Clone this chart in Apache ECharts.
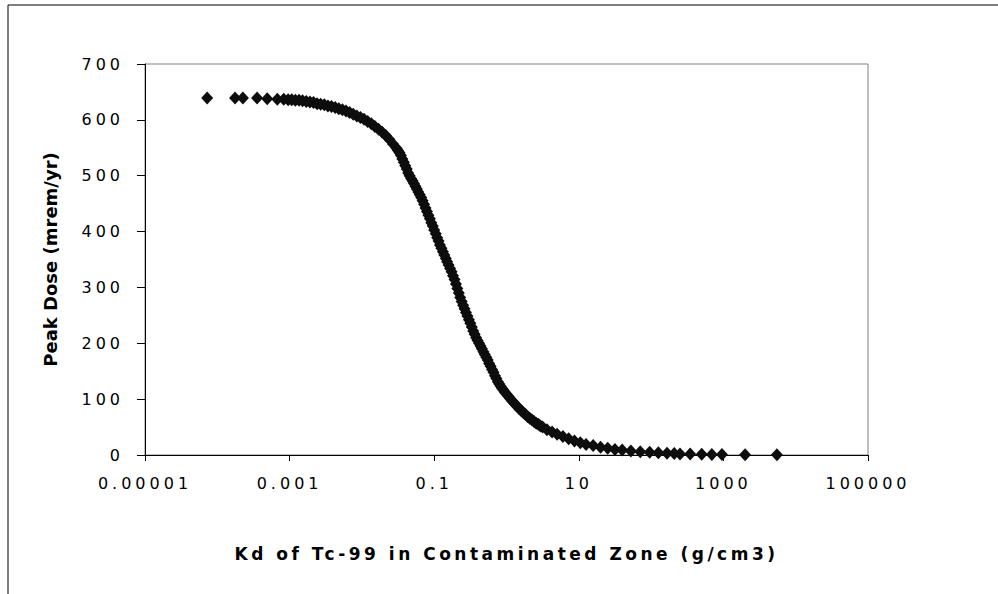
<!DOCTYPE html>
<html>
<head>
<meta charset="utf-8">
<script src="https://cdn.jsdelivr.net/npm/echarts@6/dist/echarts.min.js"></script>
<style>
  html, body { margin: 0; padding: 0; background: #fff; }
  #main { width: 998px; height: 594px; }
  /* the source chart has wide character spacing */
  #main text[style*="16px"] { letter-spacing: 4px; }
  #main text[style*="17px"] { letter-spacing: 3.5px; }
</style>
</head>
<body>
<div id="main"></div>
<script>
// Kd (g/cm3) and peak dose (mrem/yr)
var kd = [
  7.24e-5, 1.76e-4, 2.26e-4, 3.55e-4, 4.9e-4, 6.76e-4, 8.3e-4, 9.55e-4,
  1.07e-3, 1.2e-3, 1.35e-3, 1.51e-3, 1.70e-3, 1.91e-3, 2.14e-3, 2.40e-3,
  2.69e-3, 3.02e-3, 3.39e-3, 3.80e-3, 4.27e-3, 4.79e-3, 5.37e-3, 6.03e-3,
  6.76e-3, 7.59e-3, 8.51e-3, 9.55e-3, 0.0107, 0.0120, 0.0135, 0.0151,
  0.0170, 0.0191, 0.0214, 0.0240, 0.0269,
  0.0302, 0.0316, 0.0331, 0.0347, 0.0363, 0.0380, 0.0398, 0.0417,
  0.0437, 0.0457, 0.0479, 0.0501, 0.0525, 0.0550, 0.0575, 0.0603,
  0.0631, 0.0661, 0.0692, 0.0724, 0.0759, 0.0794, 0.0832, 0.0871,
  0.0912, 0.0955, 0.1, 0.105, 0.110, 0.115, 0.120, 0.126,
  0.132, 0.138, 0.145, 0.151, 0.158, 0.166, 0.174, 0.182,
  0.191, 0.200, 0.209, 0.219, 0.229, 0.240, 0.251, 0.263,
  0.275, 0.288, 0.302, 0.316, 0.331, 0.347, 0.363, 0.380,
  0.398, 0.417, 0.437, 0.457, 0.479, 0.501, 0.525, 0.550,
  0.575, 0.603, 0.631, 0.661, 0.692, 0.724, 0.759, 0.794,
  0.832, 0.871, 0.912, 0.955, 1.0, 1.06, 1.12, 1.19,
  1.26, 1.33, 1.41, 1.50, 1.58, 1.70, 1.82, 1.95,
  2.09, 2.24, 2.40, 2.57, 2.75, 2.95, 3.16, 3.63,
  4.27, 5.01, 6.03, 7.24, 8.71, 10.5, 12.6, 15.8,
  20.0, 25.1, 31.6, 39.8, 52.5, 70.8, 95.5, 126,
  166, 209, 251, 347, 501, 692, 955, 1995, 5495
];
var dose = [
  639, 639, 639, 639, 638, 637, 637, 636,
  636, 635, 635, 634, 633, 632, 631, 629,
  628, 627, 625, 624, 622, 620, 618, 616,
  613, 610, 607, 604, 601, 597, 593, 588,
  583, 578, 572, 565, 557,
  549, 545, 541, 536, 530, 524, 518, 512,
  505, 500, 495, 491, 486, 481, 476, 471,
  466, 461, 455, 449, 442, 436, 429, 423,
  416, 410, 403, 396, 389, 383, 376, 370,
  364, 358, 352, 346, 340, 334, 328, 321,
  314, 306, 298, 290, 282, 275, 268, 262,
  255, 249, 242, 236, 229, 222, 216, 210,
  205, 200, 195, 190, 185, 180, 175, 170,
  164, 159, 153, 148, 142, 137, 131, 127,
  123, 119, 116, 112, 109, 105, 101, 97,
  94, 90, 87, 83, 80, 76, 73, 69,
  66, 63, 60, 57, 55, 52, 50, 45,
  41, 37, 33, 29, 25, 22, 19, 17,
  14, 12, 10, 9, 7, 6, 5, 4,
  3, 2.5, 2, 1.6, 1.2, 1, 0.8, 0.5, 0.3
];
var xTickLabels = ['0.00001', '0.001', '0.1', '10', '1000', '100000'];
var xTitle = 'Kd of Tc-99 in Contaminated Zone (g/cm3)';
var yTitle = 'Peak Dose (mrem/yr)';

// x axis is decades of Kd
var points = [];
for (var i = 0; i < kd.length; i++) {
  points.push([Math.log10(kd[i]), dose[i]]);
}

var chart = echarts.init(document.getElementById('main'), null, { renderer: 'svg' });
var font = 'DejaVu Sans, sans-serif';

var option = {
  animation: false,
  backgroundColor: '#fff',
  graphic: [{
    type: 'rect',
    shape: { x: 8, y: 5, width: 1100, height: 700 },
    style: { fill: 'none', stroke: '#000', lineWidth: 1 },
    silent: true
  }],
  grid: {
    left: 145, right: 130, top: 64, bottom: 139,
    show: true, borderColor: '#808080', borderWidth: 1
  },
  xAxis: {
    type: 'value',
    min: -5, max: 5, interval: 2,
    name: xTitle,
    nameLocation: 'middle',
    nameGap: 90,
    nameTextStyle: { fontFamily: font, fontWeight: 'bold', fontSize: 17, color: '#000' },
    axisLine: { onZero: false, lineStyle: { color: '#000', width: 1 } },
    axisTick: { length: 6, lineStyle: { color: '#000' } },
    axisLabel: {
      margin: 20, fontFamily: font, fontSize: 16, color: '#000',
      formatter: function (v) { return xTickLabels[Math.round((v + 5) / 2)]; }
    },
    splitLine: { show: false }
  },
  yAxis: {
    type: 'value',
    min: 0, max: 700, interval: 100,
    name: yTitle,
    nameLocation: 'middle',
    nameGap: 86,
    nameTextStyle: { fontFamily: font, fontWeight: 'bold', fontSize: 18, color: '#000' },
    axisLine: { show: true, onZero: false, lineStyle: { color: '#000', width: 1 } },
    axisTick: { show: true, length: 8, lineStyle: { color: '#000' } },
    axisLabel: { margin: 21, fontFamily: font, fontSize: 16, color: '#000' },
    splitLine: { show: false }
  },
  series: [{
    type: 'scatter',
    symbol: 'diamond',
    symbolSize: [12, 13],
    itemStyle: { color: '#0d0d0d', opacity: 1 },
    data: points
  }]
};

chart.setOption(option);
</script>
</body>
</html>
